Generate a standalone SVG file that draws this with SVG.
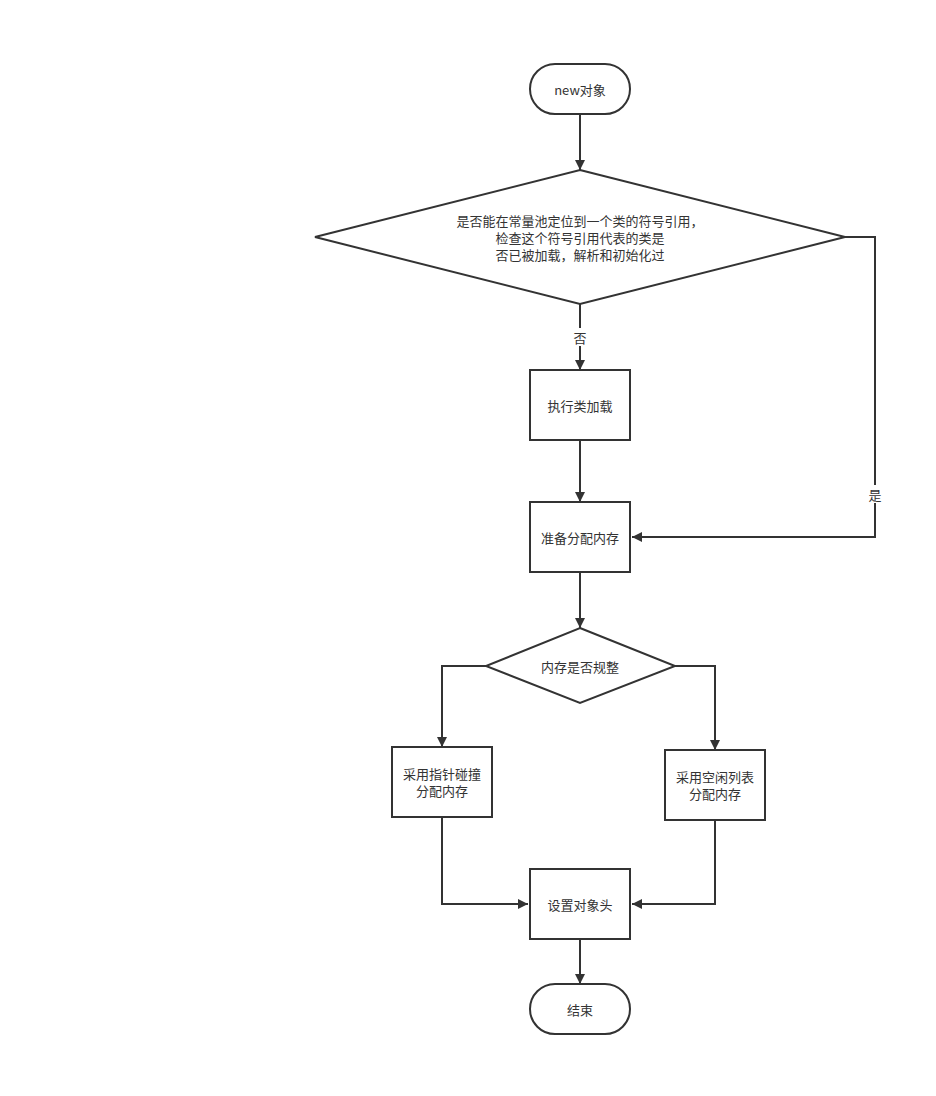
<svg xmlns="http://www.w3.org/2000/svg" width="936" height="1096" viewBox="0 0 936 1096">
<style>
.shape{fill:#fff;stroke:#333;stroke-width:2}
.edge{fill:none;stroke:#333;stroke-width:2}
.t{font-family:"Noto Sans CJK SC","Noto Sans",sans-serif;font-size:13px;fill:#333;text-anchor:middle;dominant-baseline:central}
.lbl{fill:#fff}
</style>
<defs>
<marker id="arr" viewBox="0 0 10 10" refX="10" refY="5" markerWidth="11" markerHeight="10" markerUnits="userSpaceOnUse" orient="auto">
<path d="M0,0 L10,5 L0,10 Z" fill="#333"/>
</marker>
</defs>
<rect width="936" height="1096" fill="#fff"/>
<g id="connectors">
<path class="edge" d="M580,114 V170" marker-end="url(#arr)"/>
<path class="edge" d="M580,304 V370" marker-end="url(#arr)"/>
<path class="edge" d="M845,237 H875 V537 H632" marker-end="url(#arr)"/>
<path class="edge" d="M580,440 V502" marker-end="url(#arr)"/>
<path class="edge" d="M580,572 V628" marker-end="url(#arr)"/>
<path class="edge" d="M486,666 H442 V747" marker-end="url(#arr)"/>
<path class="edge" d="M675,666 H715 V750" marker-end="url(#arr)"/>
<path class="edge" d="M442,817 V904 H528" marker-end="url(#arr)"/>
<path class="edge" d="M715,820 V904 H632" marker-end="url(#arr)"/>
<path class="edge" d="M580,939 V984" marker-end="url(#arr)"/>
<rect class="lbl" x="571" y="328" width="18" height="18"/>
<text class="t" x="580" y="337">否</text>
<rect class="lbl" x="866" y="485" width="18" height="18"/>
<text class="t" x="875" y="494">是</text>
</g>
<g id="start">
<rect class="shape" x="530" y="64" width="100" height="50" rx="25" ry="25"/>
<text class="t" x="580" y="89">new对象</text>
</g>
<g id="check">
<polygon class="shape" points="580,170 845,237 580,304 315,237"/>
<text class="t" x="580" y="220">是否能在常量池定位到一个类的符号引用，</text>
<text class="t" x="580" y="237">检查这个符号引用代表的类是</text>
<text class="t" x="580" y="254">否已被加载，解析和初始化过</text>
</g>
<g id="load">
<rect class="shape" x="530" y="370" width="100" height="70"/>
<text class="t" x="580" y="405">执行类加载</text>
</g>
<g id="prepare">
<rect class="shape" x="530" y="502" width="100" height="70"/>
<text class="t" x="580" y="537">准备分配内存</text>
</g>
<g id="regular">
<polygon class="shape" points="580,628 675,666 580,703 486,666"/>
<text class="t" x="580" y="666">内存是否规整</text>
</g>
<g id="bump">
<rect class="shape" x="392" y="747" width="100" height="70"/>
<text class="t" x="442" y="773">采用指针碰撞</text>
<text class="t" x="442" y="790">分配内存</text>
</g>
<g id="freelist">
<rect class="shape" x="665" y="750" width="100" height="70"/>
<text class="t" x="715" y="776">采用空闲列表</text>
<text class="t" x="715" y="793">分配内存</text>
</g>
<g id="header">
<rect class="shape" x="530" y="869" width="100" height="70"/>
<text class="t" x="580" y="904">设置对象头</text>
</g>
<g id="end">
<rect class="shape" x="530" y="984" width="100" height="50" rx="25" ry="25"/>
<text class="t" x="580" y="1009">结束</text>
</g>
</svg>
